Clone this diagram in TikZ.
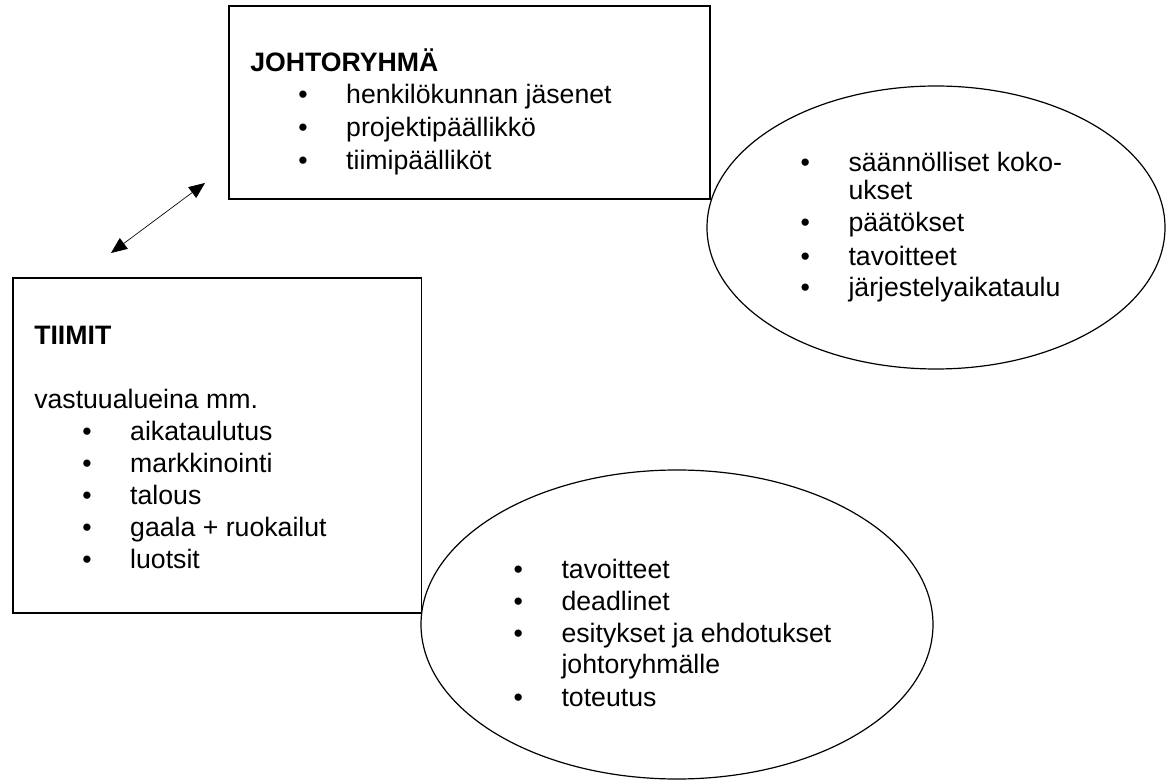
\documentclass[tikz,border=0pt]{standalone}
\usepackage{fontspec}
\setmainfont{Liberation Sans}
\usetikzlibrary{shapes.geometric,arrows.meta}
\newcommand{\bul}{\makebox[72pt][l]{\hspace*{39.5pt}\makebox[0pt]{•}}}
\newcommand{\ind}{\makebox[72pt][l]{}}
\begin{document}
\begin{tikzpicture}[x=0.75pt,y=-0.75pt,
  frame/.style={draw,line width=0.9pt,inner sep=0pt},
  oval/.style={ellipse,draw,line width=0.9pt,inner sep=0pt},
  txt/.style={anchor=base west,inner sep=0pt,font=\fontsize{20}{24.4}\selectfont},
  dbl/.style={{Triangle[length=12pt,width=10pt]}-{Triangle[length=12pt,width=10pt]},line width=0.5pt}]
\fill[white] (0,0) rectangle (1172,780);
\useasboundingbox (0,0) rectangle (1172,780);

% frames
\node[frame,minimum width=360.75pt,minimum height=144.75pt] (johto) at (469.5,102.5) {};
\node[frame,minimum width=306.5pt,minimum height=251.25pt] (tiimit) at (217.35,445.5) {};
\node[oval,minimum width=343.5pt,minimum height=212.25pt] (ov1) at (936,227.5) {};
\node[oval,minimum width=384pt,minimum height=231.75pt] (ov2) at (677,624.5) {};

% texts
\node[txt] (johtotxt) at (250,71.7) {\begin{tabular}[t]{@{}l@{}l@{}}
\multicolumn{2}{@{}l@{}}{\bfseries JOHTORYHMÄ}\\[-0.7pt]
\bul & henkilökunnan jäsenet\\[0.6pt]
\bul & projektipäällikkö\\[0.6pt]
\bul & tiimipäälliköt
\end{tabular}};

\node[txt] (tiimittxt) at (34,345) {\begin{tabular}[t]{@{}l@{}l@{}}
\multicolumn{2}{@{}l@{}}{\bfseries TIIMIT}\\[23.1pt]
\multicolumn{2}{@{}l@{}}{vastuualueina mm.}\\[-0.4pt]
\bul & aikataulutus\\[-0.4pt]
\bul & markkinointi\\[-0.4pt]
\bul & talous\\[-0.4pt]
\bul & gaala + ruokailut\\[-0.4pt]
\bul & luotsit
\end{tabular}};

\node[txt] (ov1txt) at (752.3,171.7) {\begin{tabular}[t]{@{}l@{}l@{}}
\bul & säännölliset koko-\\[-3.2pt]
\ind & ukset\\[-0.6pt]
\bul & päätökset\\[0.6pt]
\bul & tavoitteet\\[-0.6pt]
\bul & järjestelyaikataulu
\end{tabular}};

\node[txt] (ov2txt) at (465.3,578.3) {\begin{tabular}[t]{@{}l@{}l@{}}
\bul & tavoitteet\\
\bul & deadlinet\\[-0.4pt]
\bul & esitykset ja ehdotukset\\[-1.4pt]
\ind & johtoryhmälle\\
\bul & toteutus
\end{tabular}};

% arrow
\coordinate (a1) at (111,253);
\coordinate (a2) at (205,183);
\draw[dbl] (a1) -- (a2);
\end{tikzpicture}
\end{document}
